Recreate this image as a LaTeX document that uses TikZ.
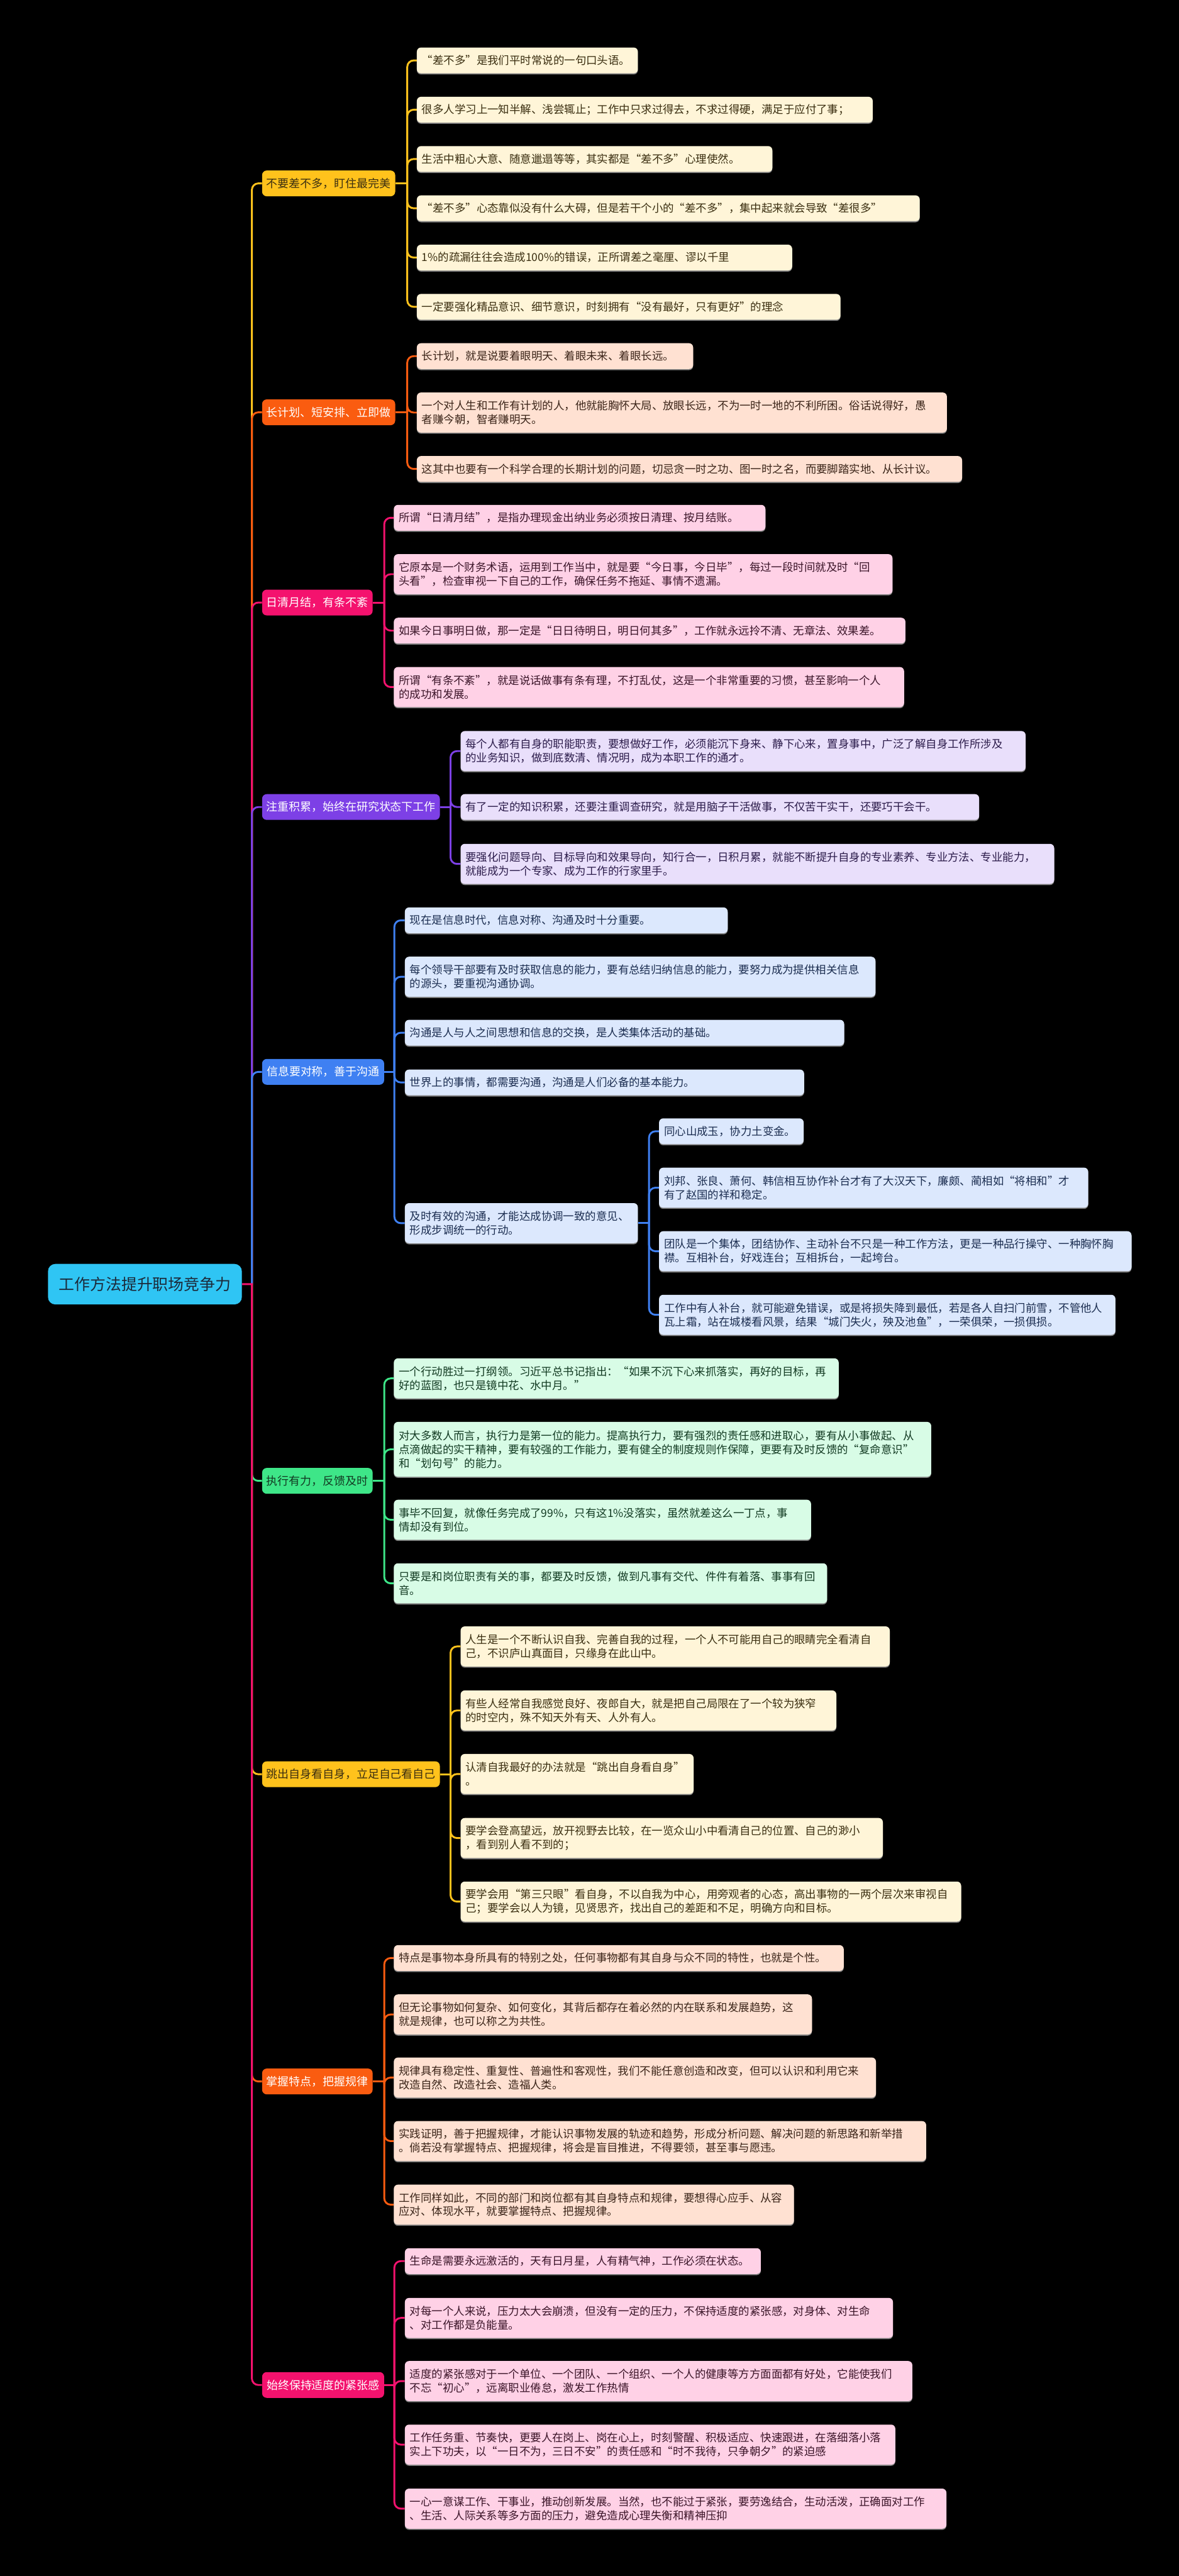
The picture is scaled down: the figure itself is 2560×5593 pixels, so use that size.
\documentclass[tikz,border=0pt]{standalone}
\usepackage{fontspec}
\setmainfont{Noto Sans CJK SC}
\usetikzlibrary{shadows}
\definecolor{cY}{HTML}{FFC21C}
\definecolor{cO}{HTML}{FA5C10}
\definecolor{cP}{HTML}{F4126E}
\definecolor{cV}{HTML}{7D40E6}
\definecolor{cB}{HTML}{3F80F2}
\definecolor{cG}{HTML}{3EE688}
\definecolor{cR}{HTML}{2FC5F4}
\definecolor{lY}{HTML}{FFF5D8}
\definecolor{lO}{HTML}{FFE1D2}
\definecolor{lP}{HTML}{FFD1E6}
\definecolor{lV}{HTML}{E9DFFB}
\definecolor{lB}{HTML}{DCE8FD}
\definecolor{lG}{HTML}{D8FCE6}
\definecolor{tY}{HTML}{3A2E10}
\definecolor{tO}{HTML}{3A2418}
\definecolor{tP}{HTML}{3A1428}
\definecolor{tV}{HTML}{2B1B4A}
\definecolor{tB}{HTML}{1B2D50}
\definecolor{tG}{HTML}{123A22}
\definecolor{tR}{HTML}{1C2A3A}
\pgfdeclarelayer{back}
\pgfdeclarelayer{conn}
\pgfsetlayers{back,conn,main}
\begin{document}
\begin{tikzpicture}[x=1pt,y=-1pt,
  lf/.style={rounded corners=9pt, anchor=north west, inner xsep=11pt, inner ysep=0pt, align=left,
    font=\fontsize{23.8}{30}\selectfont,
    drop shadow={shadow xshift=0pt, shadow yshift=-2.5pt, fill=black!50!white, opacity=1}},
  yl/.style={lf, fill=lY, text=tY},
  ol/.style={lf, fill=lO, text=tO},
  pl/.style={lf, fill=lP, text=tP},
  vl/.style={lf, fill=lV, text=tV},
  bl/.style={lf, fill=lB, text=tB},
  gl/.style={lf, fill=lG, text=tG},
  br/.style={rounded corners=10pt, anchor=north west, inner sep=0pt, minimum height=56pt, align=center,
    font=\fontsize{24.5}{30}\selectfont},
  cn/.style={line width=4pt, rounded corners=14pt}]

\begin{pgfonlayer}{back}
\fill[black] (0,0) rectangle (2560,5593);
\end{pgfonlayer}
\useasboundingbox (0,0) rectangle (2560,5593);

% root
\node[rounded corners=16pt, anchor=north west, fill=cR, text=tR, inner sep=0pt,
  minimum width=421pt, minimum height=88pt, font=\fontsize{34}{40}\selectfont] (root) at (104,2744) {工作方法提升职场竞争力};
\coordinate (tr) at (547,2788);

% branches
\node[br, fill=cY, text=tY, minimum width=289pt] (B1) at (569,370) {不要差不多，盯住最完美};
\node[br, fill=cO, text=white, minimum width=289pt] (B2) at (569,867) {长计划、短安排、立即做};
\node[br, fill=cP, text=white, minimum width=240pt] (B3) at (569,1280) {日清月结，有条不紊};
\node[br, fill=cV, text=white, minimum width=386pt] (B4) at (569,1724) {注重积累，始终在研究状态下工作};
\node[br, fill=cB, text=white, minimum width=265pt] (B5) at (569,2299) {信息要对称，善于沟通};
\node[br, fill=cG, text=tG, minimum width=240pt] (B6) at (569,3187) {执行有力，反馈及时};
\node[br, fill=cY, text=tY, minimum width=386pt] (B7) at (569,3824) {跳出自身看自身，立足自己看自己};
\node[br, fill=cO, text=white, minimum width=240pt] (B8) at (569,4491) {掌握特点，把握规律};
\node[br, fill=cP, text=white, minimum width=265pt] (B9) at (569,5150) {始终保持适度的紧张感};

% B1 leaves
\node[yl, text width=458pt, minimum height=56pt] (a1) at (905,103) {“差不多”是我们平时常说的一句口头语。};
\node[yl, text width=968pt, minimum height=56pt] (a2) at (905,210) {很多人学习上一知半解、浅尝辄止；工作中只求过得去，不求过得硬，满足于应付了事；};
\node[yl, text width=750pt, minimum height=56pt] (a3) at (905,317) {生活中粗心大意、随意邋遢等等，其实都是“差不多”心理使然。};
\node[yl, text width=1070pt, minimum height=56pt] (a4) at (905,424) {“差不多”心态靠似没有什么大碍，但是若干个小的“差不多”，集中起来就会导致“差很多”};
\node[yl, text width=793pt, minimum height=56pt] (a5) at (905,531) {1\%的疏漏往往会造成100\%的错误，正所谓差之毫厘、谬以千里};
\node[yl, text width=898pt, minimum height=56pt] (a6) at (905,638) {一定要强化精品意识、细节意识，时刻拥有“没有最好，只有更好”的理念};

% B2 leaves
\node[ol, text width=578pt, minimum height=56pt] (b1) at (905,745) {长计划，就是说要着眼明天、着眼未来、着眼长远。};
\node[ol, text width=1129pt, minimum height=87pt] (b2) at (905,852) {一个对人生和工作有计划的人，他就能胸怀大局、放眼长远，不为一时一地的不利所困。俗话说得好，愚\\者赚今朝，智者赚明天。};
\node[ol, text width=1162pt, minimum height=56pt] (b3) at (905,990) {这其中也要有一个科学合理的长期计划的问题，切忌贪一时之功、图一时之名，而要脚踏实地、从长计议。};

% B3 leaves
\node[pl, text width=785pt, minimum height=56pt] (c1) at (855,1096) {所谓“日清月结”，是指办理现金出纳业务必须按日清理、按月结账。};
\node[pl, text width=1061pt, minimum height=87pt] (c2) at (855,1203) {它原本是一个财务术语，运用到工作当中，就是要“今日事，今日毕”，每过一段时间就及时“回\\头看”，检查审视一下自己的工作，确保任务不拖延、事情不遗漏。};
\node[pl, text width=1089pt, minimum height=56pt] (c3) at (855,1341) {如果今日事明日做，那一定是“日日待明日，明日何其多”，工作就永远拎不清、无章法、效果差。};
\node[pl, text width=1086pt, minimum height=87pt] (c4) at (855,1448) {所谓“有条不紊”，就是说话做事有条有理，不打乱仗，这是一个非常重要的习惯，甚至影响一个人\\的成功和发展。};

% B4 leaves
\node[vl, text width=1205pt, minimum height=87pt] (d1) at (1000,1587) {每个人都有自身的职能职责，要想做好工作，必须能沉下身来、静下心来，置身事中，广泛了解自身工作所涉及\\的业务知识，做到底数清、情况明，成为本职工作的通才。};
\node[vl, text width=1104pt, minimum height=56pt] (d2) at (1000,1724) {有了一定的知识积累，还要注重调查研究，就是用脑子干活做事，不仅苦干实干，还要巧干会干。};
\node[vl, text width=1267pt, minimum height=87pt] (d3) at (1000,1832) {要强化问题导向、目标导向和效果导向，知行合一，日积月累，就能不断提升自身的专业素养、专业方法、专业能力，\\就能成为一个专家、成为工作的行家里手。};

% B5 leaves
\node[bl, text width=679pt, minimum height=56pt] (e1) at (879,1970) {现在是信息时代，信息对称、沟通及时十分重要。};
\node[bl, text width=1000pt, minimum height=87pt] (e2) at (879,2077) {每个领导干部要有及时获取信息的能力，要有总结归纳信息的能力，要努力成为提供相关信息\\的源头，要重视沟通协调。};
\node[bl, text width=932pt, minimum height=56pt] (e3) at (879,2214) {沟通是人与人之间思想和信息的交换，是人类集体活动的基础。};
\node[bl, text width=845pt, minimum height=56pt] (e4) at (879,2322) {世界上的事情，都需要沟通，沟通是人们必备的基本能力。};
\node[bl, text width=484pt, minimum height=87pt] (e5) at (879,2612) {及时有效的沟通，才能达成协调一致的意见、\\形成步调统一的行动。};

% B5 sub leaves
\node[bl, text width=292pt, minimum height=56pt] (f1) at (1431,2428) {同心山成玉，协力土变金。};
\node[bl, text width=910pt, minimum height=87pt] (f2) at (1431,2535) {刘邦、张良、萧何、韩信相互协作补台才有了大汉天下，廉颇、蔺相如“将相和”才\\有了赵国的祥和稳定。};
\node[bl, text width=1004pt, minimum height=87pt] (f3) at (1431,2673) {团队是一个集体，团结协作、主动补台不只是一种工作方法，更是一种品行操守、一种胸怀胸\\襟。互相补台，好戏连台；互相拆台，一起垮台。};
\node[bl, text width=969pt, minimum height=87pt] (f4) at (1431,2811) {工作中有人补台，就可能避免错误，或是将损失降到最低，若是各人自扫门前雪，不管他人\\瓦上霜，站在城楼看风景，结果“城门失火，殃及池鱼”，一荣俱荣，一损俱损。};

% B6 leaves
\node[gl, text width=944pt, minimum height=87pt] (g1) at (855,2949) {一个行动胜过一打纲领。习近平总书记指出：“如果不沉下心来抓落实，再好的目标，再\\好的蓝图，也只是镜中花、水中月。”};
\node[gl, text width=1145pt, minimum height=119pt] (g2) at (855,3087) {对大多数人而言，执行力是第一位的能力。提高执行力，要有强烈的责任感和进取心，要有从小事做起、从\\点滴做起的实干精神，要有较强的工作能力，要有健全的制度规则作保障，更要有及时反馈的“复命意识”\\和“划句号”的能力。};
\node[gl, text width=884pt, minimum height=87pt] (g3) at (855,3256) {事毕不回复，就像任务完成了99\%，只有这1\%没落实，虽然就差这么一丁点，事\\情却没有到位。};
\node[gl, text width=919pt, minimum height=87pt] (g4) at (855,3394) {只要是和岗位职责有关的事，都要及时反馈，做到凡事有交代、件件有着落、事事有回\\音。};

% B7 leaves
\node[yl, text width=910pt, minimum height=87pt] (h1) at (1000,3531) {人生是一个不断认识自我、完善自我的过程，一个人不可能用自己的眼睛完全看清自\\己，不识庐山真面目，只缘身在此山中。};
\node[yl, text width=794pt, minimum height=87pt] (h2) at (1000,3670) {有些人经常自我感觉良好、夜郎自大，就是把自己局限在了一个较为狭窄\\的时空内，殊不知天外有天、人外有人。};
\node[yl, text width=484pt, minimum height=87pt] (h3) at (1000,3808) {认清自我最好的办法就是“跳出自身看自身”\\。};
\node[yl, text width=895pt, minimum height=87pt] (h4) at (1000,3947) {要学会登高望远，放开视野去比较，在一览众山小中看清自己的位置、自己的渺小\\，看到别人看不到的；};
\node[yl, text width=1065pt, minimum height=87pt] (h5) at (1000,4085) {要学会用“第三只眼”看自身，不以自我为中心，用旁观者的心态，高出事物的一两个层次来审视自\\己；要学会以人为镜，见贤思齐，找出自己的差距和不足，明确方向和目标。};

% B8 leaves
\node[ol, text width=955pt, minimum height=56pt] (i1) at (855,4223) {特点是事物本身所具有的特别之处，任何事物都有其自身与众不同的特性，也就是个性。};
\node[ol, text width=886pt, minimum height=87pt] (i2) at (855,4330) {但无论事物如何复杂、如何变化，其背后都存在着必然的内在联系和发展趋势，这\\就是规律，也可以称之为共性。};
\node[ol, text width=1025pt, minimum height=87pt] (i3) at (855,4467) {规律具有稳定性、重复性、普遍性和客观性，我们不能任意创造和改变，但可以认识和利用它来\\改造自然、改造社会、造福人类。};
\node[ol, text width=1134pt, minimum height=87pt] (i4) at (855,4605) {实践证明，善于把握规律，才能认识事物发展的轨迹和趋势，形成分析问题、解决问题的新思路和新举措\\。倘若没有掌握特点、把握规律，将会是盲目推进，不得要领，甚至事与愿违。};
\node[ol, text width=847pt, minimum height=87pt] (i5) at (855,4743) {工作同样如此，不同的部门和岗位都有其自身特点和规律，要想得心应手、从容\\应对、体现水平，就要掌握特点、把握规律。};

% B9 leaves
\node[pl, text width=751pt, minimum height=56pt] (j1) at (879,4881) {生命是需要永远激活的，天有日月星，人有精气神，工作必须在状态。};
\node[pl, text width=1038pt, minimum height=87pt] (j2) at (879,4989) {对每一个人来说，压力太大会崩溃，但没有一定的压力，不保持适度的紧张感，对身体、对生命\\、对工作都是负能量。};
\node[pl, text width=1080pt, minimum height=87pt] (j3) at (879,5126) {适度的紧张感对于一个单位、一个团队、一个组织、一个人的健康等方方面面都有好处，它能使我们\\不忘“初心”，远离职业倦怠，激发工作热情};
\node[pl, text width=1043pt, minimum height=87pt] (j4) at (879,5264) {工作任务重、节奏快，更要人在岗上、岗在心上，时刻警醒、积极适应、快速跟进，在落细落小落\\实上下功夫，以“一日不为，三日不安”的责任感和“时不我待，只争朝夕”的紧迫感};
\node[pl, text width=1154pt, minimum height=87pt] (j5) at (879,5403) {一心一意谋工作、干事业，推动创新发展。当然，也不能过于紧张，要劳逸结合，生动活泼，正确面对工作\\、生活、人际关系等多方面的压力，避免造成心理失衡和精神压抑};

% connector junctions
\coordinate (k1) at ([xshift=26pt]B1.east);
\coordinate (k2) at ([xshift=26pt]B2.east);
\coordinate (k3) at ([xshift=25pt]B3.east);
\coordinate (k4) at ([xshift=23pt]B4.east);
\coordinate (k5) at ([xshift=22pt]B5.east);
\coordinate (k5s) at ([xshift=24pt]e5.east);
\coordinate (k6) at ([xshift=25pt]B6.east);
\coordinate (k7) at ([xshift=23pt]B7.east);
\coordinate (k8) at ([xshift=25pt]B8.east);
\coordinate (k9) at ([xshift=22pt]B9.east);

\begin{pgfonlayer}{conn}
% trunk
\draw[cn, cY] (tr) |- (B1.west);
\draw[cn, cO] (tr) |- (B2.west);
\draw[cn, cP] (tr) |- (B3.west);
\draw[cn, cV] (tr) |- (B4.west);
\draw[cn, cB] (tr) |- (B5.west);
\draw[cn, cG] (tr) |- (B6.west);
\draw[cn, cY] (tr) |- (B7.west);
\draw[cn, cO] (tr) |- (B8.west);
\draw[cn, cP] (tr) |- (B9.west);
\draw[line width=4pt, cP] (root.east) -- ([xshift=2pt]tr);
% B1
\draw[cn, cY] (B1.east) -- (k1);
\foreach \n in {a1,a2,a3,a4,a5,a6} \draw[cn, cY] (k1) |- (\n.west);
% B2
\draw[cn, cO] (B2.east) -- (k2);
\foreach \n in {b1,b2,b3} \draw[cn, cO] (k2) |- (\n.west);
% B3
\draw[cn, cP] (B3.east) -- (k3);
\foreach \n in {c1,c2,c3,c4} \draw[cn, cP] (k3) |- (\n.west);
% B4
\draw[cn, cV] (B4.east) -- (k4);
\foreach \n in {d1,d2,d3} \draw[cn, cV] (k4) |- (\n.west);
% B5
\draw[cn, cB] (B5.east) -- (k5);
\foreach \n in {e1,e2,e3,e4,e5} \draw[cn, cB] (k5) |- (\n.west);
\draw[cn, cB] (e5.east) -- (k5s);
\foreach \n in {f1,f2,f3,f4} \draw[cn, cB] (k5s) |- (\n.west);
% B6
\draw[cn, cG] (B6.east) -- (k6);
\foreach \n in {g1,g2,g3,g4} \draw[cn, cG] (k6) |- (\n.west);
% B7
\draw[cn, cY] (B7.east) -- (k7);
\foreach \n in {h1,h2,h3,h4,h5} \draw[cn, cY] (k7) |- (\n.west);
% B8
\draw[cn, cO] (B8.east) -- (k8);
\foreach \n in {i1,i2,i3,i4,i5} \draw[cn, cO] (k8) |- (\n.west);
% B9
\draw[cn, cP] (B9.east) -- (k9);
\foreach \n in {j1,j2,j3,j4,j5} \draw[cn, cP] (k9) |- (\n.west);
\end{pgfonlayer}
\end{tikzpicture}
\end{document}
